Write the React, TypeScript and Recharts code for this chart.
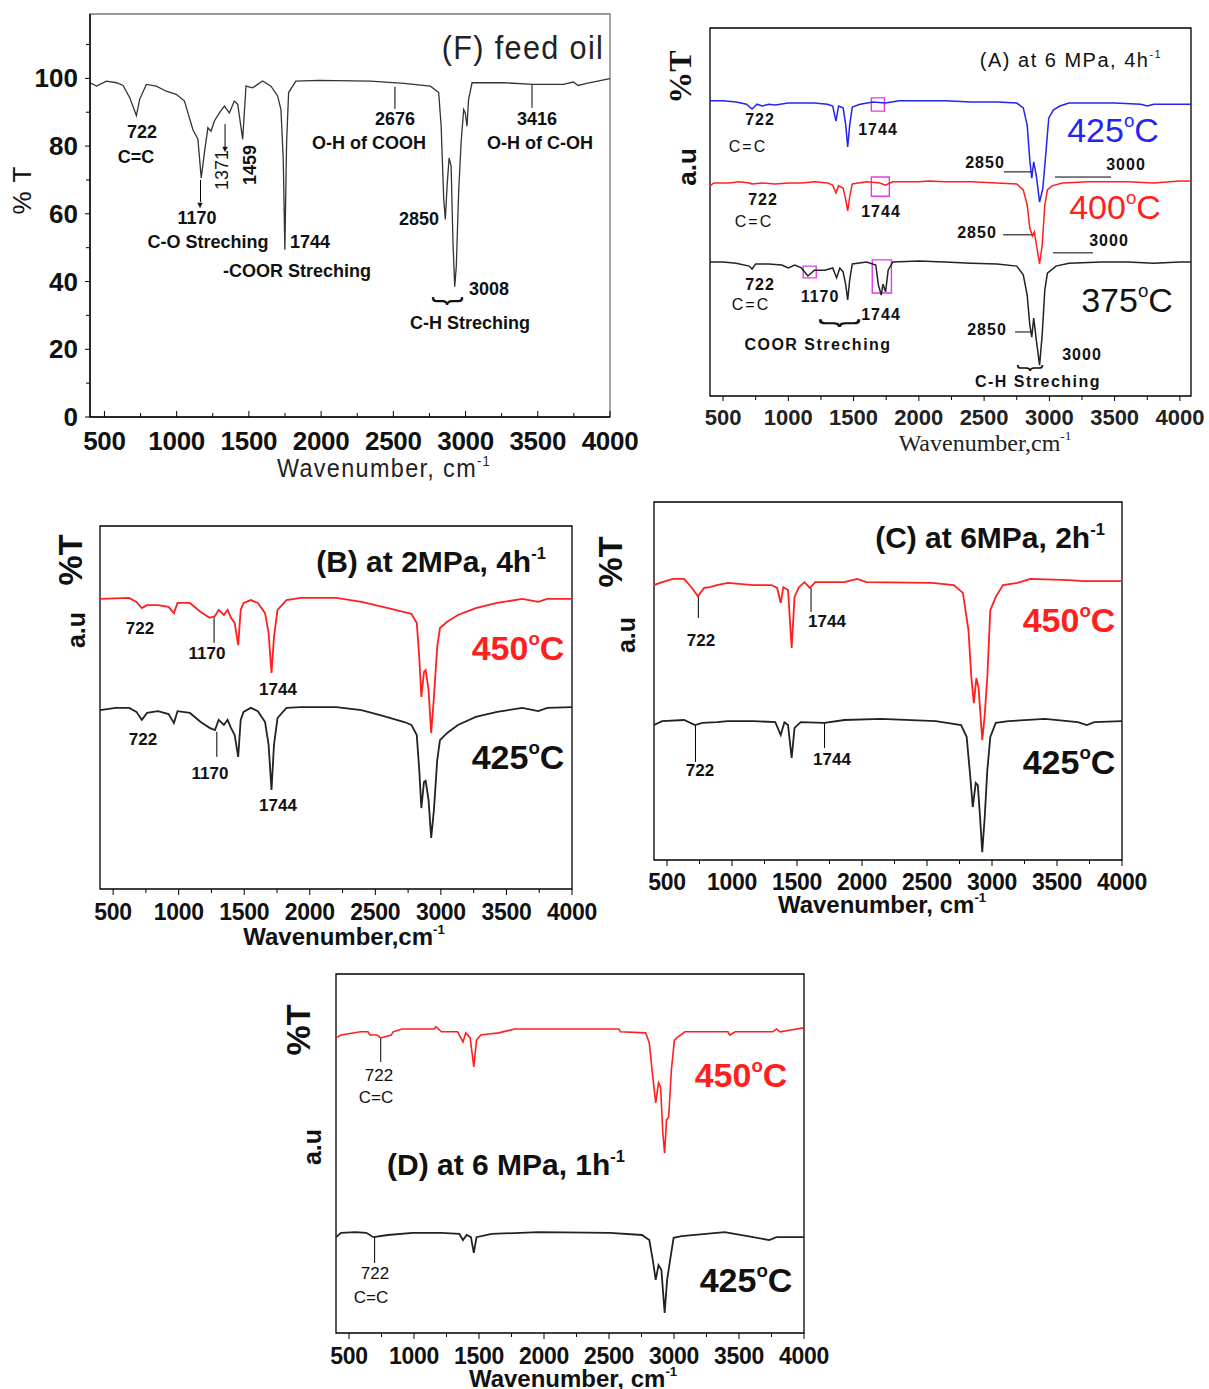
import React from 'react'
import { LineChart, Line, XAxis, YAxis, ReferenceArea, ReferenceLine } from 'recharts'

const SANS = '"Liberation Sans", Arial, Helvetica, sans-serif'
const SERIF = '"Liberation Serif", "Times New Roman", serif'
const RED = '#ff1f1f'
const BLUE = '#2424f2'
const INK = '#111'

type XY = [number, number]

// tick values
const waveMajor = [500, 1000, 1500, 2000, 2500, 3000, 3500, 4000]
const waveMinor = [750, 1250, 1750, 2250, 2750, 3250, 3750]
const waveTicks = [...waveMajor, ...waveMinor].sort((a, b) => a - b)
const pctMajor = [0, 20, 40, 60, 80, 100]
const pctMinor = [10, 30, 50, 70, 90, 110]
const pctTicks = [...pctMajor, ...pctMinor].sort((a, b) => a - b)

// (F) feed oil, %T
const feedOil: XY[] = [
  [400, 98.7], [445, 97.7], [514, 99.2], [583, 98.7], [629, 97.9], [675, 94.3], [721, 89.0], [744, 93.8],
  [790, 98.2], [859, 97.7], [928, 96.2], [997, 95.3], [1054, 93.3], [1078, 89.8], [1112, 84.9], [1147, 82.0],
  [1170, 70.6], [1192, 78.0], [1216, 85.4], [1238, 84.4], [1261, 87.4], [1296, 89.8], [1330, 91.8], [1365, 89.8],
  [1399, 93.3], [1423, 92.3], [1457, 82.0], [1480, 97.7], [1526, 97.2], [1595, 99.2], [1653, 97.7], [1699, 94.8],
  [1722, 90.8], [1738, 76.0], [1749, 49.4], [1761, 81.0], [1775, 95.8], [1825, 99.2], [1986, 99.4], [2342, 99.2],
  [2573, 98.5], [2757, 97.7], [2814, 95.8], [2831, 85.9], [2849, 64.2], [2860, 58.3], [2872, 68.1], [2886, 76.5],
  [2900, 74.1], [2913, 51.4], [2925, 38.5], [2936, 44.5], [2952, 66.2], [2969, 81.0], [2987, 90.8], [2998, 89.8],
  [3010, 85.9], [3021, 93.8], [3045, 98.7], [3263, 98.7], [3470, 98.2], [3677, 98.2], [3746, 98.9], [3780, 97.9],
  [3838, 98.5], [4000, 99.9],
]

// (A) 6 MPa, 4 h-1 (a.u.)
const a425: XY[] = [
  [400, 80.2], [500, 80.2], [600, 79.9], [680, 79.3], [722, 78.0], [760, 79.3], [800, 78.8], [850, 79.3],
  [900, 79.1], [1000, 79.6], [1100, 79.6], [1200, 79.6], [1300, 79.3], [1340, 78.8], [1365, 74.7], [1385, 78.8],
  [1420, 78.3], [1440, 73.6], [1455, 67.7], [1470, 73.6], [1490, 78.5], [1550, 79.3], [1650, 79.9], [1744, 79.6],
  [1850, 80.2], [2000, 80.2], [2200, 80.2], [2400, 79.9], [2600, 79.9], [2750, 79.6], [2800, 78.3], [2830, 73.6],
  [2850, 64.1], [2865, 59.2], [2880, 63.6], [2900, 59.8], [2925, 52.7], [2950, 56.5], [2975, 66.8], [2995, 75.5],
  [3030, 77.7], [3080, 78.8], [3150, 79.6], [3300, 79.6], [3500, 79.6], [3700, 79.3], [3750, 78.8], [3800, 79.3],
  [4000, 79.3], [4085, 79.3],
]
const a400: XY[] = [
  [400, 57.1], [430, 57.9], [550, 57.9], [620, 58.2], [700, 57.9], [722, 57.6], [800, 57.9], [900, 57.6],
  [1000, 57.9], [1100, 57.9], [1200, 58.2], [1300, 57.9], [1340, 57.3], [1365, 55.2], [1385, 57.1], [1420, 56.5],
  [1440, 53.3], [1455, 50.3], [1470, 54.1], [1490, 57.6], [1600, 58.2], [1700, 57.9], [1744, 57.3], [1800, 58.2],
  [2000, 58.2], [2080, 58.4], [2200, 58.2], [2400, 58.2], [2600, 57.9], [2750, 57.6], [2800, 56.0], [2830, 51.9],
  [2850, 45.7], [2870, 43.5], [2885, 44.6], [2905, 40.2], [2925, 35.9], [2945, 41.0], [2965, 51.9], [2985, 56.0],
  [3020, 57.1], [3100, 57.9], [3300, 58.2], [3600, 58.2], [3800, 57.9], [4000, 58.4], [4085, 58.4],
]
const a375: XY[] = [
  [400, 36.4], [500, 36.4], [600, 36.1], [700, 35.3], [722, 34.5], [750, 35.9], [850, 35.9], [950, 35.6],
  [1000, 34.8], [1050, 35.6], [1100, 34.8], [1150, 32.6], [1200, 34.2], [1280, 34.2], [1340, 34.8], [1370, 32.1],
  [1395, 34.8], [1420, 33.7], [1440, 30.2], [1455, 26.1], [1470, 31.5], [1490, 35.9], [1600, 36.4], [1670, 35.6],
  [1690, 30.2], [1712, 27.4], [1725, 30.4], [1745, 28.3], [1765, 34.2], [1800, 36.4], [2000, 36.7], [2200, 36.4],
  [2400, 36.1], [2600, 35.9], [2750, 35.3], [2800, 32.9], [2830, 27.4], [2850, 19.3], [2865, 16.0], [2880, 21.2],
  [2900, 15.2], [2925, 8.4], [2945, 16.6], [2965, 28.8], [2985, 33.4], [3050, 35.3], [3150, 36.1], [3400, 36.4],
  [3600, 36.4], [3800, 36.1], [4000, 36.4], [4085, 36.4],
]

// (B) 2 MPa, 4 h-1
const b450: XY[] = [
  [400, 79.9], [623, 80.2], [678, 79.1], [719, 77.4], [759, 78.2], [842, 78.2], [923, 77.7], [964, 76.0],
  [991, 78.8], [1086, 78.8], [1168, 76.3], [1236, 74.7], [1277, 75.2], [1305, 76.9], [1345, 75.5], [1373, 76.9],
  [1399, 74.7], [1427, 73.3], [1454, 67.2], [1473, 76.9], [1495, 78.8], [1550, 79.6], [1604, 78.8], [1659, 76.0],
  [1686, 70.5], [1708, 59.5], [1727, 69.4], [1754, 76.9], [1822, 79.6], [1931, 80.2], [2203, 80.2], [2394, 79.1],
  [2558, 77.7], [2721, 76.3], [2775, 75.8], [2816, 73.3], [2835, 63.9], [2851, 52.9], [2871, 59.8], [2884, 60.3],
  [2906, 54.8], [2926, 43.0], [2947, 52.9], [2972, 66.7], [2993, 71.9], [3048, 73.6], [3130, 75.5], [3266, 77.4],
  [3429, 78.8], [3620, 79.9], [3743, 79.1], [3811, 79.9], [4000, 79.9],
]
const b425: XY[] = [
  [400, 49.3], [520, 49.9], [623, 49.9], [678, 48.8], [719, 46.6], [759, 48.5], [842, 49.0], [923, 48.2],
  [964, 45.7], [991, 49.0], [1086, 48.5], [1168, 46.0], [1236, 44.4], [1277, 43.8], [1305, 46.6], [1345, 45.2],
  [1373, 46.6], [1399, 44.4], [1427, 42.4], [1454, 36.4], [1473, 46.6], [1495, 48.8], [1550, 49.9], [1604, 49.0],
  [1659, 46.0], [1686, 39.7], [1708, 27.3], [1727, 39.7], [1754, 47.1], [1822, 49.9], [1931, 50.1], [2203, 50.1],
  [2394, 49.3], [2558, 47.7], [2721, 46.0], [2775, 45.2], [2816, 42.4], [2835, 32.8], [2851, 22.3], [2871, 29.5],
  [2884, 29.8], [2906, 24.5], [2926, 14.1], [2947, 21.8], [2972, 35.5], [2993, 41.0], [3048, 43.0], [3130, 45.2],
  [3266, 47.4], [3429, 48.8], [3620, 49.9], [3743, 49.0], [3811, 49.9], [4000, 50.1],
]

// (C) 6 MPa, 2 h-1
const c450: XY[] = [
  [400, 76.8], [463, 77.6], [547, 78.5], [631, 78.5], [688, 76.2], [738, 73.7], [786, 76.0], [828, 76.2],
  [884, 76.8], [968, 77.4], [1164, 76.8], [1304, 76.8], [1347, 76.0], [1375, 71.8], [1395, 76.2], [1431, 75.4],
  [1459, 59.2], [1481, 73.5], [1515, 76.2], [1557, 77.6], [1599, 76.0], [1641, 77.6], [1865, 77.6], [1964, 78.5],
  [2034, 77.6], [2538, 77.4], [2706, 76.8], [2776, 74.6], [2819, 64.2], [2841, 51.1], [2860, 43.8], [2880, 50.8],
  [2897, 48.0], [2925, 33.5], [2944, 40.5], [2964, 51.1], [2987, 69.8], [3029, 73.5], [3085, 76.8], [3197, 77.4],
  [3295, 78.5], [3590, 78.2], [3715, 77.9], [4000, 77.9],
]
const c425: XY[] = [
  [400, 37.7], [463, 38.8], [631, 39.1], [716, 37.7], [772, 38.3], [884, 38.5], [968, 38.8], [1164, 38.8],
  [1333, 38.5], [1375, 34.9], [1403, 38.5], [1431, 37.7], [1459, 28.5], [1481, 36.9], [1529, 38.5], [1711, 38.3],
  [1865, 39.1], [2145, 39.4], [2567, 38.8], [2762, 37.7], [2805, 34.4], [2833, 23.2], [2852, 14.8], [2875, 21.5],
  [2891, 20.9], [2908, 12.0], [2925, 2.2], [2944, 12.0], [2964, 25.1], [2987, 34.4], [3029, 38.3], [3127, 38.8],
  [3407, 39.4], [3660, 38.5], [3730, 37.7], [3786, 38.5], [4000, 38.8],
]

// (D) 6 MPa, 1 h-1
const d450: XY[] = [
  [400, 82.2], [439, 83.0], [591, 83.9], [646, 83.9], [660, 83.0], [715, 83.0], [743, 82.2], [825, 83.0],
  [839, 83.9], [908, 84.7], [1156, 84.7], [1169, 85.3], [1211, 83.9], [1335, 83.9], [1377, 81.1], [1398, 83.6],
  [1432, 82.2], [1460, 74.1], [1481, 81.6], [1514, 83.0], [1575, 83.3], [1652, 83.6], [1776, 84.7], [2575, 84.7],
  [2589, 83.9], [2782, 83.6], [2810, 80.8], [2831, 73.3], [2859, 64.1], [2881, 69.7], [2897, 68.5], [2914, 55.7],
  [2928, 50.1], [2942, 59.3], [2959, 60.2], [2980, 73.3], [3003, 81.6], [3030, 82.5], [3085, 83.9], [3415, 83.9],
  [3429, 83.0], [3471, 83.9], [3760, 83.9], [3788, 84.7], [3815, 83.9], [3898, 84.4], [4000, 85.0],
]
const d425: XY[] = [
  [400, 26.7], [439, 27.9], [550, 28.1], [633, 27.9], [688, 26.7], [799, 27.3], [991, 27.9], [1211, 27.9],
  [1349, 27.6], [1377, 25.9], [1405, 27.3], [1438, 26.7], [1460, 22.3], [1481, 26.7], [1597, 27.6], [1956, 28.1],
  [2507, 27.9], [2754, 27.3], [2810, 25.9], [2837, 20.3], [2859, 14.8], [2881, 18.9], [2903, 17.6], [2928, 5.6],
  [2947, 14.8], [2970, 20.3], [2997, 26.5], [3058, 27.0], [3389, 28.1], [3609, 26.7], [3733, 25.9], [3788, 26.7],
  [4000, 26.7],
]

const toPts = (a: XY[]) => a.map(([x, y]) => ({ x, y }))

type TickStyle = {
  size: number
  weight: number | string
  family: string
  color: string
  gap: number
  major: number
  minor: number
  out: boolean
  ls?: number
}

function xTick(s: TickStyle) {
  return function XTick(p: any) {
    const v = p.payload.value
    const isMajor = waveMajor.includes(v)
    const len = isMajor ? s.major : s.minor
    return (
      <g>
        <line x1={p.x} x2={p.x} y1={p.y} y2={s.out ? p.y + len : p.y - len} stroke="#000" strokeWidth={1} />
        {isMajor && (
          <text x={p.x} y={p.y + s.gap} textAnchor="middle" dominantBaseline="central" fontSize={s.size}
            fontWeight={s.weight} fontFamily={s.family} fill={s.color} letterSpacing={s.ls ?? 0}>{v}</text>
        )}
      </g>
    )
  }
}

function yTick(s: TickStyle) {
  return function YTick(p: any) {
    const v = p.payload.value
    const isMajor = pctMajor.includes(v)
    const len = isMajor ? s.major : s.minor
    return (
      <g>
        <line x1={p.x} x2={s.out ? p.x - len : p.x + len} y1={p.y} y2={p.y} stroke="#000" strokeWidth={1} />
        {isMajor && (
          <text x={p.x - s.gap} y={p.y} textAnchor="end" dominantBaseline="central" fontSize={s.size}
            fontWeight={s.weight} fontFamily={s.family} fill={s.color}>{v}</text>
        )}
      </g>
    )
  }
}

type Trace = { pts: XY[]; color: string; w: number }

function Panel(props: {
  box: [number, number, number, number]
  xMax?: number
  yMax?: number
  traces: Trace[]
  xStyle: TickStyle
  yStyle?: TickStyle
  frame: string
  axisLine?: boolean
  extra?: React.ReactNode[]
}) {
  const { box, xMax = 4000, yMax = 100, traces, xStyle, yStyle, frame, axisLine = false, extra = [] } = props
  const [l, t, r, b] = box
  const padL = 60
  const padT = 10
  const padR = 40
  const axisH = 44
  return (
    <div style={{ position: 'absolute', left: l - padL, top: t - padT }}>
      <LineChart width={r - l + padL + padR} height={b - t + padT + axisH}
        margin={{ top: padT, right: padR, bottom: 0, left: yStyle ? 0 : padL }}>
        <XAxis type="number" dataKey="x" domain={[400, xMax]} allowDataOverflow ticks={waveTicks} interval={0}
          tick={xTick(xStyle)} tickLine={false} tickSize={0} tickMargin={0} height={axisH}
          axisLine={axisLine ? { stroke: '#000', strokeWidth: 1.5 } : false} />
        <YAxis type="number" domain={[0, yMax]} allowDataOverflow hide={!yStyle} width={padL}
          ticks={pctTicks} interval={0} tick={yStyle ? yTick(yStyle) : false} tickLine={false} tickSize={0}
          tickMargin={0} axisLine={axisLine ? { stroke: '#000', strokeWidth: 1.5 } : false} />
        <ReferenceArea x1={400} x2={xMax} y1={0} y2={yMax} fill="none" stroke={frame} strokeWidth={1.3}
          ifOverflow="visible" />
        {extra}
        {traces.map((tr, i) => (
          <Line key={i} data={toPts(tr.pts)} dataKey="y" type="linear" stroke={tr.color} strokeWidth={tr.w}
            dot={false} activeDot={false} isAnimationActive={false} />
        ))}
      </LineChart>
    </div>
  )
}

function T(p: {
  x: number
  y: number
  s: number
  w?: number | string
  f?: string
  c?: string
  r?: number
  ls?: number
  sx?: number
  children: React.ReactNode
}) {
  const { x, y, s, w = 'bold', f = SANS, c = INK, r = 0, ls = 0, sx = 1, children } = p
  return (
    <div style={{
      position: 'absolute', left: x, top: y, transform: `translate(-50%, -50%) rotate(${r}deg) scaleX(${sx})`,
      whiteSpace: 'nowrap', fontSize: s, fontWeight: w, fontFamily: f, color: c, letterSpacing: ls, lineHeight: 1,
    }}>{children}</div>
  )
}

const Sup = ({ children }: { children: React.ReactNode }) => (
  <span style={{ fontSize: '0.55em', position: 'relative', top: '-0.8em' }}>{children}</span>
)
const Deg = ({ t }: { t: string }) => <>{t}<Sup>o</Sup>C</>

const seg = (k: string, x1: number, y1: number, x2: number, y2: number, color = '#000') => (
  <ReferenceLine key={k} segment={[{ x: x1, y: y1 }, { x: x2, y: y2 }]} stroke={color} strokeWidth={1}
    ifOverflow="visible" />
)
const box = (k: string, x1: number, x2: number, y1: number, y2: number) => (
  <ReferenceArea key={k} x1={x1} x2={x2} y1={y1} y2={y2} fill="none" stroke="#e53be5" strokeWidth={1.4}
    ifOverflow="visible" />
)

const boldTicks: TickStyle = { size: 23, weight: 'bold', family: SANS, color: INK, gap: 23, major: 6, minor: 4, out: true, ls: -0.3 }

export default function App() {
  return (
    <div style={{ position: 'absolute', left: 0, top: 0, width: 1209, height: 1389, overflow: 'hidden', background: '#fff' }}>
      {/* (F) feed oil */}
      <Panel box={[90, 14, 610, 417]} yMax={119} frame="#777" axisLine
        traces={[{ pts: feedOil, color: '#333', w: 1.3 }]}
        xStyle={{ size: 26, weight: 'bold', family: SANS, color: INK, gap: 24, major: 6, minor: 4, out: false, ls: -0.3 }}
        yStyle={{ size: 26, weight: 'bold', family: SANS, color: INK, gap: 12, major: 5, minor: 4, out: true }}
        extra={[
          seg('f1', 1165, 70, 1165, 63.5),
          seg('f2', 1335, 86.5, 1335, 79.5),
          seg('f3', 2511, 97.5, 2511, 91),
          seg('f4', 3460, 98.2, 3460, 91.3),
        ]} />
      <T x={523} y={47} s={34} w="normal" sx={0.9} ls={1.5} c="#222">(F) feed oil</T>
      <T x={22} y={190} s={26} w="normal" r={-90} ls={1}>% T</T>
      <T x={384} y={468} s={26} w="normal" sx={0.9} ls={1.5} c="#222">Wavenumber, cm<Sup>-1</Sup></T>
      <T x={142} y={132} s={18}>722</T>
      <T x={136} y={157} s={18}>C=C</T>
      <T x={197} y={218} s={18}>1170</T>
      <T x={200} y={205} s={9} w="normal">▼</T>
      <T x={208} y={242} s={18}>C-O Streching</T>
      <T x={310} y={242} s={18}>1744</T>
      <T x={297} y={271} s={18}>-COOR Streching</T>
      <T x={222} y={170} s={18} w="normal" r={-90}>1371</T>
      <T x={225} y={149} s={9} w="normal">▼</T>
      <T x={250} y={165} s={18} r={-90}>1459</T>
      <T x={395} y={119} s={18}>2676</T>
      <T x={369} y={143} s={18}>O-H of COOH</T>
      <T x={537} y={119} s={18}>3416</T>
      <T x={540} y={143} s={18}>O-H of C-OH</T>
      <T x={419} y={219} s={18}>2850</T>
      <T x={489} y={289} s={18}>3008</T>
      <T x={444} y={301} s={34} w="normal" r={-90} sx={0.8}>{'{'}</T>
      <T x={470} y={323} s={18}>C-H Streching</T>

      {/* (A) 6 MPa, 4 h-1 */}
      <Panel box={[710, 28, 1191, 396]} xMax={4085} frame="#000"
        traces={[
          { pts: a425, color: BLUE, w: 1.5 },
          { pts: a400, color: RED, w: 1.5 },
          { pts: a375, color: '#222', w: 1.5 },
        ]}
        xStyle={{ size: 22, weight: 'bold', family: SANS, color: '#222', gap: 21, major: 5, minor: 4, out: true }}
        extra={[
          seg('a1', 2652, 60.9, 2875, 60.9),
          seg('a2', 3043, 59.5, 3472, 59.5),
          seg('a3', 2645, 43.8, 2890, 43.8),
          seg('a4', 3028, 38.9, 3334, 38.9),
          seg('a5', 2737, 17.4, 2867, 17.4),
          box('b1', 1636, 1736, 77.4, 81.0),
          box('b2', 1636, 1774, 54.3, 59.5),
          box('b3', 1114, 1214, 32.1, 35.3),
          box('b4', 1643, 1790, 28, 37),
        ]} />
      <T x={680} y={77} s={32} f={SERIF} r={-90}>%T</T>
      <T x={687} y={167} s={26} r={-90}>a.u</T>
      <T x={1071} y={60} s={20} w="normal" ls={1.5}>(A) at 6 MPa, 4h<Sup>-1</Sup></T>
      <T x={1113} y={130} s={34} w="normal" c={BLUE}><Deg t="425" /></T>
      <T x={1115} y={207} s={34} w="normal" c={RED}><Deg t="400" /></T>
      <T x={1127} y={300} s={34} w="normal"><Deg t="375" /></T>
      <T x={985} y={443} s={24} w="normal" f={SERIF} c="#222">Wavenumber,cm<Sup>-1</Sup></T>
      <T x={760} y={120} s={16} ls={1}>722</T>
      <T x={748} y={147} s={16} w="normal" ls={2}>C=C</T>
      <T x={878} y={130} s={16} ls={1}>1744</T>
      <T x={985} y={163} s={16} ls={1}>2850</T>
      <T x={1126} y={165} s={16} ls={1}>3000</T>
      <T x={763} y={200} s={16} ls={1}>722</T>
      <T x={754} y={222} s={16} w="normal" ls={2}>C=C</T>
      <T x={881} y={212} s={16} ls={1}>1744</T>
      <T x={977} y={233} s={16} ls={1}>2850</T>
      <T x={1109} y={241} s={16} ls={1}>3000</T>
      <T x={760} y={285} s={16} ls={1}>722</T>
      <T x={751} y={305} s={16} w="normal" ls={2}>C=C</T>
      <T x={820} y={297} s={16} ls={1}>1170</T>
      <T x={881} y={315} s={16} ls={1}>1744</T>
      <T x={836} y={323} s={44} w="normal" r={-90} sx={0.6}>{'{'}</T>
      <T x={818} y={345} s={16} ls={1.5}>COOR Streching</T>
      <T x={987} y={330} s={16} ls={1}>2850</T>
      <T x={1082} y={355} s={16} ls={1}>3000</T>
      <T x={1028} y={368} s={28} w="normal" r={-90} sx={0.7}>{'{'}</T>
      <T x={1038} y={382} s={16} ls={1.5}>C-H Streching</T>

      {/* (B) 2 MPa, 4 h-1 */}
      <Panel box={[100, 526, 572, 889]} frame="#000"
        traces={[
          { pts: b450, color: RED, w: 1.8 },
          { pts: b425, color: '#222', w: 1.8 },
        ]}
        xStyle={boldTicks}
        extra={[seg('bl1', 1270, 75.2, 1270, 67.8), seg('bl2', 1291, 43.3, 1291, 36.4)]} />
      <T x={70} y={560} s={34} r={-90}>%T</T>
      <T x={76} y={630} s={25} r={-90}>a.u</T>
      <T x={431} y={562} s={30}>(B) at 2MPa, 4h<Sup>-1</Sup></T>
      <T x={518} y={648} s={34} c={RED}><Deg t="450" /></T>
      <T x={518} y={757} s={34}><Deg t="425" /></T>
      <T x={140} y={628} s={17}>722</T>
      <T x={207} y={653} s={17}>1170</T>
      <T x={278} y={689} s={17}>1744</T>
      <T x={143} y={739} s={17}>722</T>
      <T x={210} y={773} s={17}>1170</T>
      <T x={278} y={805} s={17}>1744</T>
      <T x={344} y={937} s={24}>Wavenumber,cm<Sup>-1</Sup></T>

      {/* (C) 6 MPa, 2 h-1 */}
      <Panel box={[654, 502, 1122, 860]} frame="#000"
        traces={[
          { pts: c450, color: RED, w: 1.8 },
          { pts: c425, color: '#222', w: 1.8 },
        ]}
        xStyle={{ ...boldTicks, gap: 22 }}
        extra={[
          seg('cl1', 741, 73.7, 741, 67.6),
          seg('cl2', 1608, 76.0, 1608, 69.3),
          seg('cl3', 719, 37.7, 719, 27.4),
          seg('cl4', 1712, 38.3, 1712, 31.3),
        ]} />
      <T x={610} y={562} s={34} r={-90}>%T</T>
      <T x={626} y={635} s={25} r={-90}>a.u</T>
      <T x={990} y={538} s={30}>(C) at 6MPa, 2h<Sup>-1</Sup></T>
      <T x={1069} y={620} s={34} c={RED}><Deg t="450" /></T>
      <T x={1069} y={762} s={34}><Deg t="425" /></T>
      <T x={701} y={640} s={17}>722</T>
      <T x={827} y={621} s={17}>1744</T>
      <T x={700} y={770} s={17}>722</T>
      <T x={832} y={759} s={17}>1744</T>
      <T x={882} y={905} s={24}>Wavenumber, cm<Sup>-1</Sup></T>

      {/* (D) 6 MPa, 1 h-1 */}
      <Panel box={[336, 974, 804, 1333]} frame="#000"
        traces={[
          { pts: d450, color: RED, w: 1.6 },
          { pts: d425, color: '#222', w: 1.8 },
        ]}
        xStyle={{ ...boldTicks, gap: 23 }}
        extra={[seg('dl1', 744, 82.2, 744, 75.5), seg('dl2', 697, 26.7, 697, 19.5)]} />
      <T x={298} y={1030} s={34} r={-90}>%T</T>
      <T x={312} y={1147} s={25} r={-90}>a.u</T>
      <T x={506} y={1165} s={30}>(D) at 6 MPa, 1h<Sup>-1</Sup></T>
      <T x={741} y={1075} s={34} c={RED}><Deg t="450" /></T>
      <T x={746} y={1280} s={34}><Deg t="425" /></T>
      <T x={379} y={1075} s={17} w="normal">722</T>
      <T x={376} y={1097} s={17} w="normal">C=C</T>
      <T x={375} y={1273} s={17} w="normal">722</T>
      <T x={371} y={1297} s={17} w="normal">C=C</T>
      <T x={573} y={1379} s={24}>Wavenumber, cm<Sup>-1</Sup></T>
    </div>
  )
}
